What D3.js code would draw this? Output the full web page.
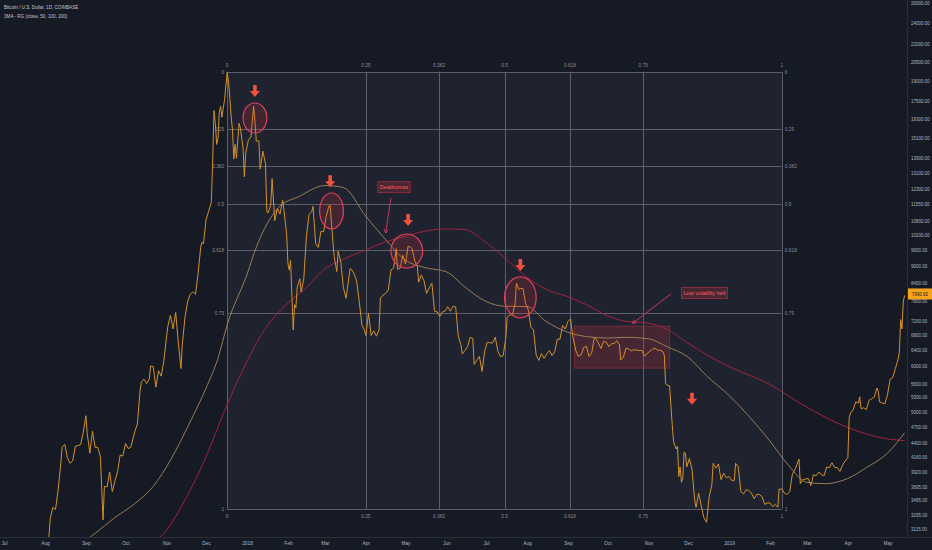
<!DOCTYPE html>
<html><head><meta charset="utf-8">
<script src="https://cdnjs.cloudflare.com/ajax/libs/d3/7.8.5/d3.min.js"></script>
<style>html,body{margin:0;padding:0;background:#161a25;overflow:hidden}svg{display:block}</style>
</head><body><svg id="c" width="932" height="550"></svg>
<script>
// ---------- DATA ----------
const priceDates = [
"2017-07-25","2017-07-29","2017-08-01","2017-08-03","2017-08-05","2017-08-07","2017-08-09","2017-08-11","2017-08-13","2017-08-14","2017-08-16","2017-08-18","2017-08-20","2017-08-22","2017-08-24","2017-08-26","2017-08-28","2017-08-30",
"2017-09-01","2017-09-02","2017-09-04","2017-09-06","2017-09-08","2017-09-10","2017-09-12","2017-09-14","2017-09-15","2017-09-17","2017-09-19","2017-09-21","2017-09-23","2017-09-25","2017-09-27","2017-09-29",
"2017-10-01","2017-10-03","2017-10-05","2017-10-08","2017-10-10","2017-10-12","2017-10-13","2017-10-15","2017-10-17","2017-10-19","2017-10-20","2017-10-22","2017-10-24","2017-10-26","2017-10-28","2017-10-30",
"2017-11-01","2017-11-02","2017-11-04","2017-11-06","2017-11-08","2017-11-10","2017-11-12","2017-11-13","2017-11-15","2017-11-17","2017-11-19","2017-11-21","2017-11-23","2017-11-25","2017-11-27","2017-11-28","2017-11-29",
"2017-12-01","2017-12-03","2017-12-05","2017-12-06","2017-12-07","2017-12-08","2017-12-09","2017-12-10","2017-12-11","2017-12-12","2017-12-13","2017-12-15","2017-12-17","2017-12-18","2017-12-19","2017-12-20","2017-12-21","2017-12-22","2017-12-23","2017-12-24","2017-12-26","2017-12-27","2017-12-29","2017-12-30","2017-12-31",
"2018-01-02","2018-01-04","2018-01-06","2018-01-07","2018-01-08","2018-01-10","2018-01-11","2018-01-13","2018-01-15","2018-01-16","2018-01-17","2018-01-19","2018-01-20","2018-01-22","2018-01-24","2018-01-26","2018-01-28","2018-01-29","2018-01-31",
"2018-02-01","2018-02-02","2018-02-03","2018-02-05","2018-02-06","2018-02-07","2018-02-08","2018-02-10","2018-02-11","2018-02-13","2018-02-15","2018-02-17","2018-02-19","2018-02-20","2018-02-22","2018-02-24","2018-02-26","2018-02-28",
"2018-03-02","2018-03-04","2018-03-05","2018-03-07","2018-03-08","2018-03-10","2018-03-11","2018-03-13","2018-03-15","2018-03-17","2018-03-18","2018-03-20","2018-03-21","2018-03-23","2018-03-25","2018-03-27","2018-03-29","2018-03-31",
"2018-04-01","2018-04-03","2018-04-05","2018-04-07","2018-04-09","2018-04-11","2018-04-12","2018-04-14","2018-04-16","2018-04-18","2018-04-20","2018-04-22","2018-04-24","2018-04-25","2018-04-27","2018-04-29",
"2018-05-01","2018-05-03","2018-05-05","2018-05-06","2018-05-08","2018-05-10","2018-05-11","2018-05-13","2018-05-15","2018-05-17","2018-05-19","2018-05-21","2018-05-23","2018-05-25","2018-05-27","2018-05-29","2018-05-31",
"2018-06-02","2018-06-04","2018-06-06","2018-06-08","2018-06-10","2018-06-12","2018-06-13","2018-06-15","2018-06-17","2018-06-19","2018-06-21","2018-06-22","2018-06-24","2018-06-26","2018-06-28","2018-06-30",
"2018-07-02","2018-07-04","2018-07-06","2018-07-08","2018-07-10","2018-07-12","2018-07-14","2018-07-16","2018-07-17","2018-07-19","2018-07-21","2018-07-23","2018-07-24","2018-07-26","2018-07-27","2018-07-29","2018-07-31",
"2018-08-02","2018-08-04","2018-08-06","2018-08-08","2018-08-10","2018-08-12","2018-08-14","2018-08-16","2018-08-18","2018-08-20","2018-08-22","2018-08-24","2018-08-26","2018-08-28","2018-08-30",
"2018-09-01","2018-09-03","2018-09-05","2018-09-07","2018-09-09","2018-09-11","2018-09-13","2018-09-15","2018-09-17","2018-09-19","2018-09-21","2018-09-22","2018-09-24","2018-09-26","2018-09-28","2018-09-30",
"2018-10-02","2018-10-04","2018-10-06","2018-10-08","2018-10-10","2018-10-11","2018-10-13","2018-10-15","2018-10-17","2018-10-19","2018-10-21","2018-10-23","2018-10-25","2018-10-27","2018-10-29","2018-10-31",
"2018-11-02","2018-11-04","2018-11-06","2018-11-08","2018-11-10","2018-11-12","2018-11-13","2018-11-14","2018-11-15","2018-11-17","2018-11-19","2018-11-20","2018-11-22","2018-11-23","2018-11-24","2018-11-25","2018-11-26","2018-11-27","2018-11-28","2018-11-29","2018-11-30",
"2018-12-02","2018-12-04","2018-12-06","2018-12-07","2018-12-09","2018-12-11","2018-12-13","2018-12-15","2018-12-17","2018-12-19","2018-12-20","2018-12-22","2018-12-24","2018-12-26","2018-12-28","2018-12-30",
"2019-01-01","2019-01-03","2019-01-05","2019-01-06","2019-01-08","2019-01-10","2019-01-12","2019-01-14","2019-01-16","2019-01-18","2019-01-20","2019-01-22","2019-01-24","2019-01-26","2019-01-28","2019-01-30",
"2019-02-01","2019-02-03","2019-02-05","2019-02-07","2019-02-08","2019-02-10","2019-02-12","2019-02-14","2019-02-16","2019-02-18","2019-02-20","2019-02-23","2019-02-24","2019-02-26","2019-02-28",
"2019-03-02","2019-03-04","2019-03-06","2019-03-08","2019-03-10","2019-03-12","2019-03-14","2019-03-16","2019-03-18","2019-03-20","2019-03-22","2019-03-24","2019-03-26","2019-03-28","2019-03-30",
"2019-04-01","2019-04-02","2019-04-03","2019-04-05","2019-04-07","2019-04-09","2019-04-10","2019-04-11","2019-04-13","2019-04-15","2019-04-17","2019-04-19","2019-04-21","2019-04-23","2019-04-24","2019-04-25","2019-04-27","2019-04-29",
"2019-05-01","2019-05-03","2019-05-05","2019-05-07","2019-05-09","2019-05-10","2019-05-11","2019-05-12","2019-05-13","2019-05-14"];
const priceCloses = [
2550,2730,2720,2800,3250,3400,3370,3650,4060,4330,4380,4150,4060,4100,4350,4360,4380,4600,
4920,4580,4230,4620,4330,4330,4170,3230,3700,3690,3920,3620,3780,3930,4200,4180,
4400,4310,4330,4610,4760,5440,5640,5700,5600,5700,6010,6000,5520,5900,5770,6130,
6740,7050,7380,6980,7460,6600,5950,6560,7300,7790,8030,8110,8030,8750,9740,9900,9840,
10850,11230,11640,13750,16850,16050,14700,15050,16700,17150,16400,17600,19650,18950,17700,16450,15600,13850,14700,13900,16000,15700,14500,12900,14160,
14950,15150,17150,16150,14900,14900,13300,14300,13600,11200,11150,11500,12800,10800,11350,11100,11750,11250,10250,
9100,8850,9200,6950,7700,7600,8250,8550,8100,8550,10150,11080,11200,11450,9850,9700,10350,10330,
11000,11450,11490,9940,9350,8800,9550,9150,8250,7900,8200,8900,8880,8730,8470,7800,7100,6940,
6800,7430,6800,6930,6780,6950,7900,8000,8060,8170,8860,8920,9650,8880,8920,9400,
9070,9750,9700,9650,9190,9000,8430,8680,8480,8060,8240,8400,7500,7480,7340,7480,7500,
7640,7500,7650,7630,6780,6550,6310,6400,6500,6750,6720,6050,6150,6250,5880,6390,
6620,6600,6600,6750,6380,6240,6270,6740,7320,7380,7400,7720,8400,8180,8220,8220,7730,
7540,7030,6950,6280,6150,6320,6200,6310,6400,6270,6370,6700,6700,7080,6980,
7190,7270,6710,6400,6250,6290,6480,6510,6250,6330,6740,6720,6600,6450,6640,6620,
6500,6580,6580,6660,6550,6160,6230,6460,6440,6390,6420,6410,6400,6400,6260,6320,
6380,6430,6460,6400,6410,6370,6280,5600,5570,5550,4750,4430,4300,4350,3850,4000,3760,3820,4250,4230,4000,
4140,3960,3500,3400,3600,3420,3260,3200,3550,3720,4060,3980,4050,3800,3900,3830,
3850,3790,3790,4060,4000,3620,3590,3650,3640,3600,3520,3580,3580,3550,3440,3460,
3460,3410,3440,3400,3660,3660,3600,3580,3620,3890,3960,4130,3740,3800,3810,
3820,3710,3880,3860,3920,3880,3860,4000,3990,4070,3990,3990,3930,4030,4100,
4150,4880,4970,5040,5200,5180,5310,5060,5080,5040,5230,5270,5300,5500,5430,5200,5180,5160,
5350,5700,5740,5950,6170,6350,7250,6980,7810,7990.92];

// 100-period moving average (tan)
const ma100Dates = ["2017-08-25","2017-09-08","2017-09-22","2017-10-08","2017-10-22","2017-11-05","2017-11-18","2017-12-01","2017-12-10","2017-12-17","2018-01-01","2018-01-08","2018-01-25","2018-02-09","2018-03-01","2018-03-15","2018-04-01","2018-04-15","2018-05-01","2018-05-15","2018-06-01","2018-06-15","2018-07-01","2018-07-15","2018-08-01","2018-08-15","2018-09-01","2018-09-15","2018-10-01","2018-10-15","2018-11-01","2018-11-15","2018-12-01","2018-12-15","2019-01-01","2019-01-15","2019-02-01","2019-02-15","2019-03-01","2019-03-15","2019-04-01","2019-04-15","2019-05-01","2019-05-14"];
const ma100Values = [2900,3060,3250,3450,3700,4150,4750,5500,6200,7100,8700,9700,11400,11900,12450,12350,11000,10070,9210,8950,8790,8270,7800,7650,7640,7210,6890,6770,6730,6750,6710,6500,6230,5780,5340,4940,4440,4030,3760,3740,3820,3990,4230,4590];

// 200-period moving average (crimson)
const ma200Dates = ["2017-10-15","2017-11-01","2017-11-15","2017-12-01","2017-12-15","2018-01-01","2018-01-15","2018-02-01","2018-02-15","2018-03-01","2018-03-15","2018-04-01","2018-04-15","2018-05-01","2018-05-15","2018-06-01","2018-06-15","2018-07-01","2018-07-15","2018-08-01","2018-08-15","2018-09-01","2018-09-15","2018-10-01","2018-10-15","2018-11-01","2018-11-15","2018-12-01","2018-12-15","2019-01-01","2019-02-01","2019-03-01","2019-04-01","2019-05-01","2019-05-14"];
const ma200Values = [2870,3100,3500,4170,5020,6130,7000,7750,8250,8900,9250,9600,9900,10150,10350,10450,10420,9900,9300,8600,8200,7950,7700,7360,7200,7150,6970,6590,6290,6000,5580,5090,4690,4480,4450];

const priceTicks = [26000,24000,22000,20500,19000,17500,16300,15100,13900,13100,12300,11550,10800,10200,9600,9000,8400,7800,7200,6800,6400,6000,5600,5300,5000,4700,4400,4160,3920,3695,3495,3295,3115];
const monthTicks = ["2017-07-01","2017-08-01","2017-09-01","2017-10-01","2017-11-01","2017-12-01","2018-01-01","2018-02-01","2018-03-01","2018-04-01","2018-05-01","2018-06-01","2018-07-01","2018-08-01","2018-09-01","2018-10-01","2018-11-01","2018-12-01","2019-01-01","2019-02-01","2019-03-01","2019-04-01","2019-05-01"];

const fibLevels = [0,0.25,0.382,0.5,0.618,0.75,1];
const fibPriceHigh = 19700, fibPriceLow = 3380;
const fibStart = "2017-12-17", fibEnd = "2019-02-10";

const arrowMarks = [["2018-01-07",17800],["2018-03-05",12370],["2018-05-03",10570],["2018-07-27",8820],["2018-12-04",5140]];
// [center date, half-width in days, top price, bottom price]
const circleMarks = [["2018-01-07",9.8,17370,15390],["2018-03-06",9.5,12080,10450],["2018-05-02",12,10240,8925],["2018-07-27",12,8610,7300]];
const boxMark = ["2018-09-06","2018-11-17",7060,5960];
// label: left date, centre price, arrow from, arrow to
const labels = [
  {text:"Deathcross", date:"2018-04-10", price:12370, from:["2018-04-20",11850], to:["2018-04-16",10280]},
  {text:"Low volatility hell", date:"2018-11-26", price:8070, from:["2018-11-18",8040], to:["2018-10-20",7140]}
];
const header = ["Bitcoin / U.S. Dollar, 1D, COINBASE","3MA - RG (close, 50, 100, 200)"];

// ---------- SETUP ----------
const W=932,H=550, plotR=907, plotB=537;
const parse=d3.utcParse("%Y-%m-%d");
const x=d3.scaleUtc().domain([parse("2018-01-01"),parse("2019-01-01")]).range([247,729]);
const y=d3.scaleLog().domain([26000,3115]).range([3,529]);
const svg=d3.select("#c");
const font="'Liberation Sans', Arial, sans-serif";
const squeeze=(sel,f)=>sel.each(function(){const L=this.getComputedTextLength();d3.select(this).attr("textLength",L*f).attr("lengthAdjust","spacingAndGlyphs");});
svg.append("rect").attr("width",W).attr("height",H).attr("fill","#161a25");
svg.append("defs").append("clipPath").attr("id","clip").append("rect").attr("width",plotR).attr("height",plotB);
const g=svg.append("g").attr("clip-path","url(#clip)");

// Fib box
const fx0=x(parse(fibStart)), fx1=x(parse(fibEnd));
const fibP=l=>fibPriceHigh-l*(fibPriceHigh-fibPriceLow);
const fy0=y(fibP(0)), fy1=y(fibP(1));
g.append("rect").attr("x",fx0).attr("y",fy0).attr("width",fx1-fx0).attr("height",fy1-fy0).attr("fill","#232733").attr("opacity",0.75);
const fibTime=l=>fx0+l*(fx1-fx0);
fibLevels.forEach(l=>{
  g.append("line").attr("x1",fx0).attr("x2",fx1).attr("y1",Math.round(y(fibP(l)))+0.5).attr("y2",Math.round(y(fibP(l)))+0.5).attr("stroke","#5d606b").attr("stroke-width",1);
  g.append("line").attr("y1",fy0).attr("y2",fy1).attr("x1",Math.round(fibTime(l))+0.5).attr("x2",Math.round(fibTime(l))+0.5).attr("stroke","#5d606b").attr("stroke-width",1);
  const fl=g.append("g").attr("fill","#8a8d96").attr("font-size","4.8px").attr("font-family",font);
  fl.append("text").attr("x",fx0-3).attr("y",y(fibP(l))+2).attr("text-anchor","end").text(l);
  fl.append("text").attr("x",fx1+3).attr("y",y(fibP(l))+2).attr("text-anchor","start").text(l);
  fl.append("text").attr("x",fibTime(l)).attr("y",fy0-5).attr("text-anchor","middle").text(l);
  fl.append("text").attr("x",fibTime(l)).attr("y",fy1+9).attr("text-anchor","middle").text(l);
});

// low-volatility box
g.append("rect").attr("x",x(parse(boxMark[0]))).attr("y",y(boxMark[2])).attr("width",x(parse(boxMark[1]))-x(parse(boxMark[0]))).attr("height",y(boxMark[3])-y(boxMark[2]))
 .attr("fill","rgba(242,54,69,0.18)").attr("stroke","rgba(242,54,69,0.35)").attr("stroke-width",1);

// MA lines
const lineGen=d3.line().x(d=>x(d[0])).y(d=>y(d[1])).curve(d3.curveMonotoneX);
g.append("path").datum(ma200Dates.map((d,i)=>[parse(d),ma200Values[i]])).attr("d",lineGen).attr("fill","none").attr("stroke","#a3213f").attr("stroke-width",1);
g.append("path").datum(ma100Dates.map((d,i)=>[parse(d),ma100Values[i]])).attr("d",lineGen).attr("fill","none").attr("stroke","#a8865a").attr("stroke-width",0.9);

// price line
const pLine=d3.line().x(d=>x(d[0])).y(d=>y(d[1]));
g.append("path").datum(priceDates.map((d,i)=>[parse(d),priceCloses[i]])).attr("d",pLine).attr("fill","none").attr("stroke","#d3912a").attr("stroke-width",1).attr("stroke-linejoin","round");

// circles
circleMarks.forEach(c=>{
  const cx=x(parse(c[0]));
  const rx=x(d3.utcDay.offset(parse(c[0]),c[1]))-cx;
  const top=y(c[2]), bot=y(c[3]);
  g.append("ellipse").attr("cx",cx).attr("cy",(top+bot)/2).attr("rx",rx).attr("ry",(bot-top)/2)
   .attr("fill","rgba(242,54,69,0.16)").attr("stroke","#e0405c").attr("stroke-width",1.2);
});

// arrows
arrowMarks.forEach(a=>{
  const ax=x(parse(a[0])), ay=y(a[1]);
  g.append("path").attr("transform",`translate(${ax},${ay})`).attr("d","M0,0 L-5,-6 L-1.8,-6 L-1.8,-12 L1.8,-12 L1.8,-6 L5,-6 Z").attr("fill","#f4503e");
});

// label callouts
labels.forEach(lb=>{
  const fx=x(parse(lb.from[0])), fy=y(lb.from[1]), tx=x(parse(lb.to[0])), ty=y(lb.to[1]);
  const ang=Math.atan2(ty-fy,tx-fx);
  g.append("line").attr("x1",fx).attr("y1",fy).attr("x2",tx).attr("y2",ty).attr("stroke","#c8375f").attr("stroke-width",1);
  const hl=4;
  g.append("path").attr("d",`M${tx+hl*Math.cos(ang+Math.PI-0.5)},${ty+hl*Math.sin(ang+Math.PI-0.5)} L${tx},${ty} L${tx+hl*Math.cos(ang+Math.PI+0.5)},${ty+hl*Math.sin(ang+Math.PI+0.5)}`).attr("fill","none").attr("stroke","#c8375f").attr("stroke-width",1);
  const lx=x(parse(lb.date)), cy=y(lb.price);
  const lg=g.append("g");
  const r=lg.append("rect");
  const t=lg.append("text").attr("x",lx+2).attr("y",cy+2).attr("font-size","5.6px").attr("font-family",font).attr("fill","#ff5b63").text(lb.text);
  const bb=t.node().getBBox();
  r.attr("x",lx).attr("y",cy-5.5).attr("width",bb.width+4).attr("height",11).attr("fill","rgba(242,54,69,0.2)").attr("stroke","rgba(242,54,69,0.55)").attr("stroke-width",0.8);
});

// separators
svg.append("line").attr("x1",plotR+0.5).attr("x2",plotR+0.5).attr("y1",0).attr("y2",plotB).attr("stroke","#2a2e39");
svg.append("line").attr("x1",0).attr("x2",W).attr("y1",plotB+0.5).attr("y2",plotB+0.5).attr("stroke","#2a2e39");

// price axis
const ya=svg.append("g").attr("transform",`translate(${plotR+2},0)`).call(d3.axisRight(y).tickValues(priceTicks).tickFormat(d3.format(".2f")).tickSize(0).tickPadding(2));
ya.select(".domain").remove();
ya.selectAll("text").attr("fill","#b2b5be").attr("font-size","4.5px").attr("font-family",font);

// time axis
const xa=svg.append("g").attr("transform",`translate(0,${plotB+3})`).call(d3.axisBottom(x).tickValues(monthTicks.map(parse)).tickFormat(d=>d.getUTCMonth()===0?d3.utcFormat("%Y")(d):d3.utcFormat("%b")(d)).tickSize(0).tickPadding(2));
xa.select(".domain").remove();
xa.selectAll("text").attr("fill","#b2b5be").attr("font-size","4.8px").attr("font-family",font);

// last price label
const last=priceCloses[priceCloses.length-1];
svg.append("rect").attr("x",plotR+1).attr("y",y(last)-7).attr("width",24).attr("height",11).attr("fill","#f7a41d");
svg.append("text").attr("x",plotR+13).attr("y",y(last)+0.6).attr("text-anchor","middle").attr("font-size","4.5px").attr("font-family",font).attr("fill","#131722").text(d3.format(".2f")(last));

// header
header.forEach((h,i)=>svg.append("text").attr("x",4).attr("y",9+i*8.5).attr("font-size","4.6px").attr("font-family",font).attr("fill","#c3c6ce").text(h));
</script></body></html>
